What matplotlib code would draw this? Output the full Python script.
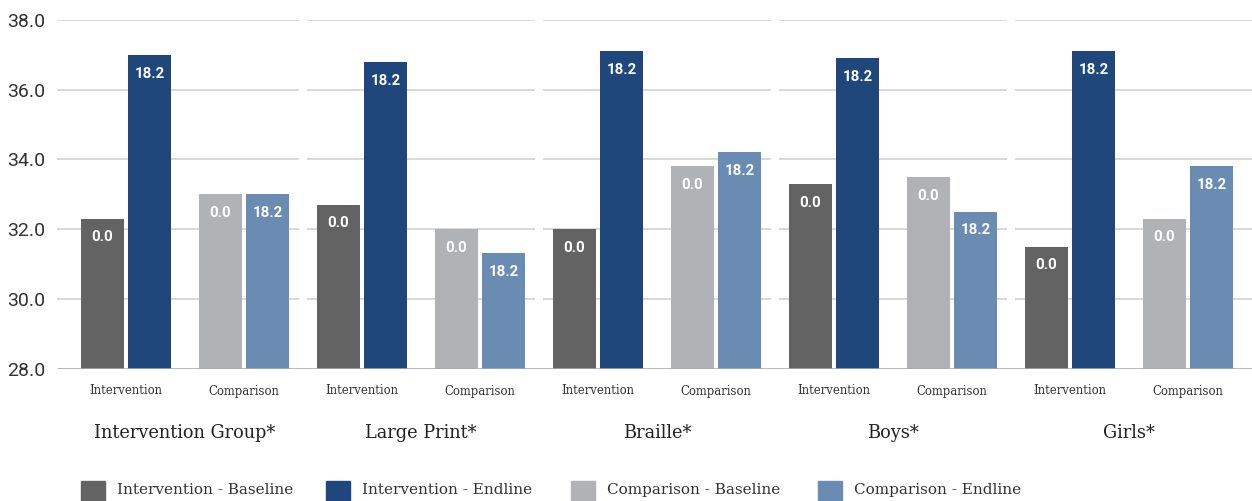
import matplotlib
matplotlib.use("Agg")
import matplotlib.pyplot as plt
import matplotlib.transforms as mtransforms
from matplotlib.patches import Rectangle

# ---- data ----
groups = ["Intervention Group*", "Large Print*", "Braille*", "Boys*", "Girls*"]
series = ["Intervention - Baseline", "Intervention - Endline",
          "Comparison - Baseline", "Comparison - Endline"]
int_baseline = [32.3, 32.7, 32.0, 33.3, 31.5]
int_endline = [37.0, 36.8, 37.1, 36.9, 37.1]
comp_baseline = [33.0, 32.0, 33.8, 33.5, 32.3]
comp_endline = [33.0, 31.3, 34.2, 32.5, 33.8]
bar_labels = ["0.0", "18.2", "0.0", "18.2"]
sub_labels = ["Intervention", "Comparison"]
y_ticks = [28.0, 30.0, 32.0, 34.0, 36.0, 38.0]

colors = ["#636363", "#1f477c", "#b1b2b6", "#6a8cb3"]
values = [int_baseline, int_endline, comp_baseline, comp_endline]

SERIF = "DejaVu Serif"
SANS = "Roboto"

W, H = 1252, 501
fig = plt.figure(figsize=(W / 100, H / 100), dpi=100)

# axes in pixel-based data units along x
x_left, x_right = 57, 1252
y_top_px, y_bot_px = 20, 368.5
ax = fig.add_axes([x_left / W, (H - y_bot_px) / H,
                   (x_right - x_left) / W, (y_bot_px - y_top_px) / H])
ax.set_xlim(x_left, x_right)
ax.set_ylim(28, 38)

pitch = 236          # distance between groups
first = 81           # left edge of first bar
bw = 43              # bar width
offsets = [0, 47, 118, 165]

for s, (vals, col) in enumerate(zip(values, colors)):
    for g, v in enumerate(vals):
        x0 = first + g * pitch + offsets[s]
        ax.bar(x0, v - 28, bottom=28, width=bw, align="edge", color=col,
               zorder=2)
        ax.annotate(bar_labels[s], (x0 + bw / 2, v), xytext=(0, -13.5),
                    textcoords="offset points", ha="center", va="center",
                    color="white", fontsize=10.8, fontweight="bold",
                    family=SANS, zorder=4)

# per-group gridline segments
for g in range(len(groups)):
    seg_l = first + g * pitch - 10
    seg_r = first + g * pitch + offsets[3] + bw + 10
    if g == 0:
        seg_l = x_left
    if g == len(groups) - 1:
        seg_r = x_right
    for t in y_ticks[1:]:
        ax.hlines(t, seg_l, seg_r, color="#d6d6d6", lw=1.3, zorder=1)

# baseline
ax.hlines(28, x_left, x_right, color="#a9a9a9", lw=2, zorder=3, alpha=0.9)

for sp in ax.spines.values():
    sp.set_visible(False)
ax.set_xticks([])
ax.set_yticks(y_ticks)
ax.set_yticklabels([f"{t:.1f}" for t in y_ticks], family=SANS, fontsize=14,
                   color="#333333")
ax.tick_params(axis="y", length=0, pad=8.5)

# text rows below the axis
sub_shift = ax.transData + mtransforms.ScaledTranslation(0, -22.5 / 100, fig.dpi_scale_trans)
grp_shift = ax.transData + mtransforms.ScaledTranslation(0, -64.5 / 100, fig.dpi_scale_trans)
for g, name in enumerate(groups):
    base = first + g * pitch
    for k, lab in enumerate(sub_labels):
        cx = base + offsets[2 * k] + (offsets[2 * k + 1] + bw - offsets[2 * k]) / 2
        ax.text(cx, 28, lab, transform=sub_shift, ha="center", va="center",
                fontsize=8.4, family=SERIF, color="#333333")
    gc = base + (offsets[3] + bw) / 2
    ax.text(gc, 28, name, transform=grp_shift, ha="center", va="center",
            fontsize=12.8, family=SERIF, color="#222222")

# legend row
leg_x = [81, 326, 571, 818]
for lx, lab, col in zip(leg_x, series, colors):
    fig.add_artist(Rectangle((lx / W, (H - 505) / H), 24 / W, 24 / H,
                             transform=fig.transFigure, color=col))
    fig.text((lx + 36) / W, (H - 490) / H, lab, ha="left", va="center",
             fontsize=11, family=SERIF, color="#333333")

fig.savefig("out.png", dpi=100, facecolor="white")
